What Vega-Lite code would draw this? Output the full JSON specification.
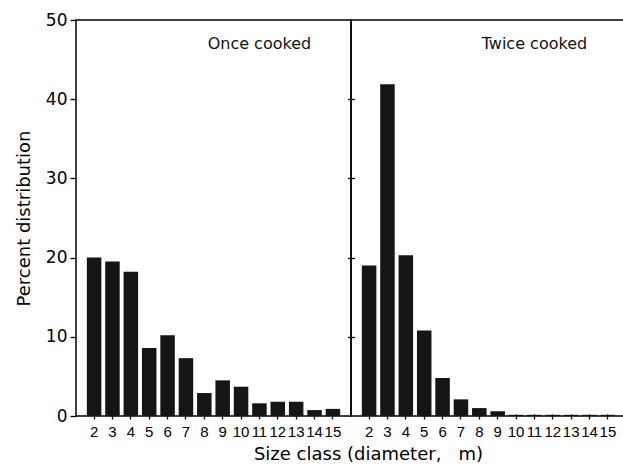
{
  "$schema": "https://vega.github.io/schema/vega-lite/v6.json",
  "padding": {"left": 14, "top": 10, "right": 0, "bottom": 0},
  "background": "white",
  "spacing": 0,
  "bounds": "flush",
  "config": {
    "view": {"stroke": "black", "strokeWidth": 1.5},
    "axis": {"tickColor": "black", "labelColor": "black", "titleColor": "black", "tickWidth": 1.3, "grid": false, "domain": false, "titleFontWeight": "normal"}
  },
  "datasets": {
    "bars": [
      {"cook": "Once cooked", "size": 2, "pct": 20.0},
      {"cook": "Once cooked", "size": 3, "pct": 19.5},
      {"cook": "Once cooked", "size": 4, "pct": 18.2},
      {"cook": "Once cooked", "size": 5, "pct": 8.6},
      {"cook": "Once cooked", "size": 6, "pct": 10.2},
      {"cook": "Once cooked", "size": 7, "pct": 7.3},
      {"cook": "Once cooked", "size": 8, "pct": 2.9},
      {"cook": "Once cooked", "size": 9, "pct": 4.5},
      {"cook": "Once cooked", "size": 10, "pct": 3.7},
      {"cook": "Once cooked", "size": 11, "pct": 1.6},
      {"cook": "Once cooked", "size": 12, "pct": 1.8},
      {"cook": "Once cooked", "size": 13, "pct": 1.8},
      {"cook": "Once cooked", "size": 14, "pct": 0.75},
      {"cook": "Once cooked", "size": 15, "pct": 0.9},
      {"cook": "Twice cooked", "size": 2, "pct": 19.0},
      {"cook": "Twice cooked", "size": 3, "pct": 41.9},
      {"cook": "Twice cooked", "size": 4, "pct": 20.3},
      {"cook": "Twice cooked", "size": 5, "pct": 10.8},
      {"cook": "Twice cooked", "size": 6, "pct": 4.8},
      {"cook": "Twice cooked", "size": 7, "pct": 2.1},
      {"cook": "Twice cooked", "size": 8, "pct": 1.0},
      {"cook": "Twice cooked", "size": 9, "pct": 0.6},
      {"cook": "Twice cooked", "size": 10, "pct": 0.15},
      {"cook": "Twice cooked", "size": 11, "pct": 0.15},
      {"cook": "Twice cooked", "size": 12, "pct": 0.15},
      {"cook": "Twice cooked", "size": 13, "pct": 0.15},
      {"cook": "Twice cooked", "size": 14, "pct": 0.15},
      {"cook": "Twice cooked", "size": 15, "pct": 0.15}
    ]
  },
  "hconcat": [
    {
      "width": 275,
      "height": 396,
      "layer": [
        {
          "data": {"name": "bars"},
          "transform": [{"filter": "datum.cook == 'Once cooked'"}],
          "mark": {"type": "bar", "color": "#151515"},
          "encoding": {
            "x": {
              "field": "size", "type": "ordinal",
              "scale": {"paddingInner": 0.21, "paddingOuter": 0.59},
              "axis": {"title": "Size class (diameter,\u00a0\u00a0\u00a0m)", "labelAngle": 0, "tickSize": 5, "offset": -2, "labelPadding": 5,
                "labelFont": "Liberation Sans", "labelFontSize": 15,
                "titleFont": "DejaVu Sans", "titleFontSize": 18, "titlePadding": 6, "titleX": 292}
            },
            "y": {
              "field": "pct", "type": "quantitative",
              "scale": {"domain": [0, 50]},
              "axis": {"title": "Percent distribution", "values": [0, 10, 20, 30, 40, 50], "tickSize": 6, "labelPadding": 3,
                "labelFont": "DejaVu Sans", "labelFontSize": 17, "titleFont": "DejaVu Sans", "titleFontSize": 18, "titlePadding": 12}
            }
          }
        },
        {
          "data": {"values": [{"label": "Once cooked"}]},
          "mark": {"type": "text", "font": "DejaVu Sans", "fontSize": 16, "color": "#111"},
          "encoding": {
            "x": {"datum": 11, "type": "ordinal"},
            "y": {"datum": 47, "type": "quantitative"},
            "text": {"field": "label"}
          }
        }
      ]
    },
    {
      "width": 275,
      "height": 396,
      "layer": [
        {
          "data": {"name": "bars"},
          "transform": [{"filter": "datum.cook == 'Twice cooked'"}],
          "mark": {"type": "bar", "color": "#151515"},
          "encoding": {
            "x": {
              "field": "size", "type": "ordinal",
              "scale": {"paddingInner": 0.21, "paddingOuter": 0.59},
              "axis": {"title": null, "labelAngle": 0, "tickSize": 5, "offset": -2, "labelPadding": 5,
                "labelFont": "Liberation Sans", "labelFontSize": 15}
            },
            "y": {
              "field": "pct", "type": "quantitative",
              "scale": {"domain": [0, 50]},
              "axis": {"title": null, "labels": false, "values": [10, 20, 30, 40], "tickSize": 7, "offset": -3.5}
            }
          }
        },
        {
          "data": {"values": [{"label": "Twice cooked"}]},
          "mark": {"type": "text", "font": "DejaVu Sans", "fontSize": 16, "color": "#111"},
          "encoding": {
            "x": {"datum": 11, "type": "ordinal"},
            "y": {"datum": 47, "type": "quantitative"},
            "text": {"field": "label"}
          }
        }
      ]
    }
  ]
}
